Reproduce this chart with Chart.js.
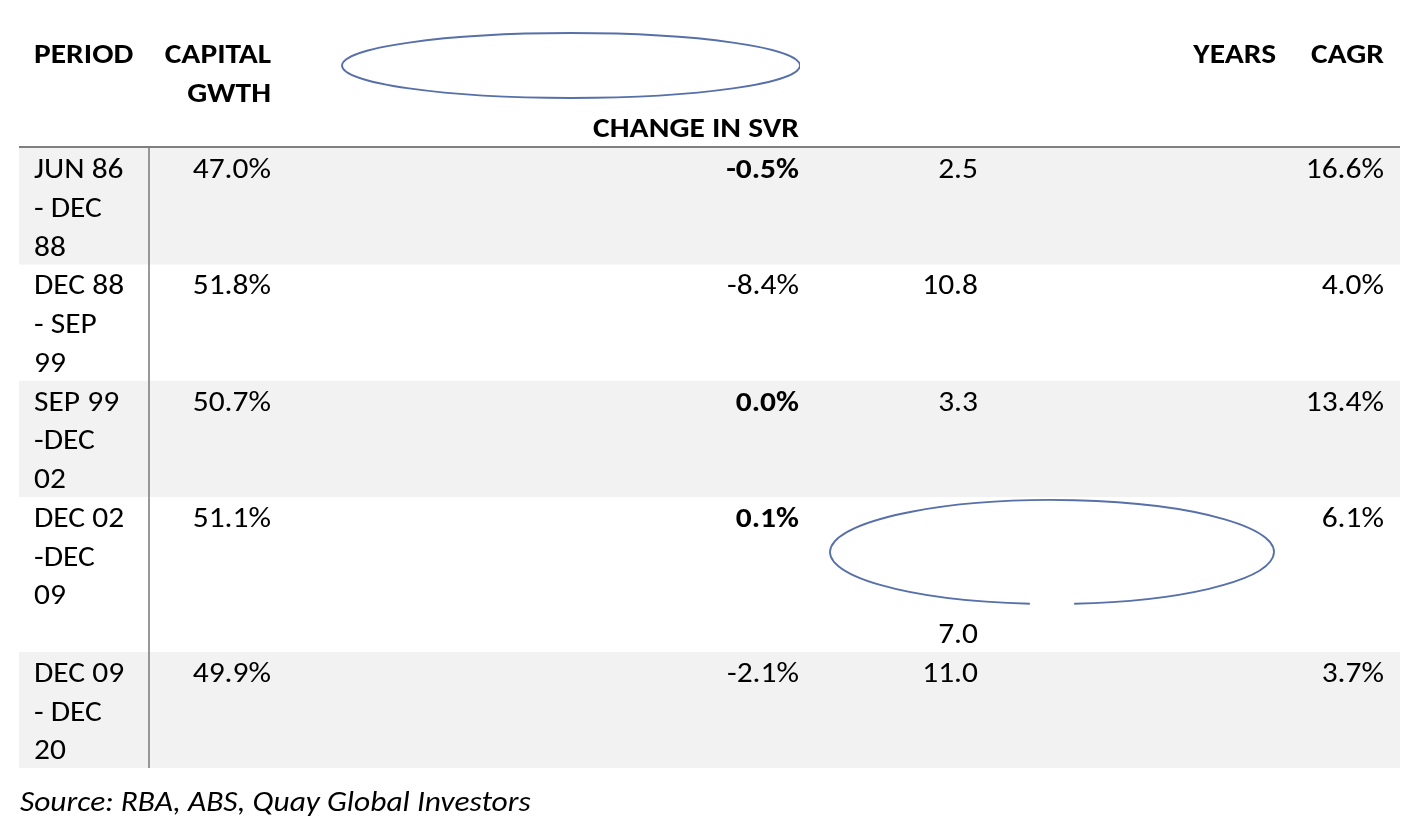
<!DOCTYPE html>
<html>
<head>
<meta charset="utf-8">
<script src="https://cdn.jsdelivr.net/npm/chart.js@4.4.1/dist/chart.umd.min.js"></script>
<style>
  html, body { margin: 0; padding: 0; background: #fff; }
  #wrap { width: 1421px; height: 830px; position: relative; }
</style>
</head>
<body>
<div id="wrap"><canvas id="tbl"></canvas></div>
<script>
// table data
const periods = [
  ["JUN 86", "- DEC", "88"],
  ["DEC 88", "- SEP", "99"],
  ["SEP 99", "-DEC", "02"],
  ["DEC 02", "-DEC", "09"],
  ["DEC 09", "- DEC", "20"],
];
const capitalGrowth = [47.0, 51.8, 50.7, 51.1, 49.9];
const svrChange = [-0.5, -8.4, 0.0, 0.1, -2.1];
const svrBold = [true, false, true, true, false];
const years = [2.5, 10.8, 3.3, 7.0, 11.0];
const yearsLine = [0, 0, 0, 3, 0];   // the 7.0 got pushed to the 4th line
const cagr = [16.6, 4.0, 13.4, 6.1, 3.7];
const source = "Source: RBA, ABS, Quay Global Investors";

// row heights in text lines
const rowLines = [3, 3, 3, 4, 3];
const rowStart = [];
rowLines.reduce((acc, n, i) => { rowStart[i] = acc; return acc + n; }, 0);
const totalLines = rowLines.reduce((a, b) => a + b, 0);

const FONT = "Carlito, Calibri, Lato, sans-serif";
const SIZE = 29;
const STRETCH = 1.085; // Lato is a touch narrower than Calibri
const pct = v => v.toFixed(1) + "%";

function text(ctx, str, x, y, align) {
  ctx.save();
  ctx.textAlign = align;
  ctx.translate(x, y);
  ctx.scale(STRETCH, 1);
  ctx.fillText(str, 0, 0);
  ctx.restore();
}

const tablePlugin = {
  id: "tableText",
  afterDatasetsDraw(chart) {
    const { ctx, chartArea: ca, scales: { y } } = chart;
    const pitch = y.getPixelForValue(1) - y.getPixelForValue(0);
    const base = (row, line) => y.getPixelForValue(rowStart[row]) + 30 + line * pitch;

    ctx.save();
    // header rule + first column divider
    ctx.strokeStyle = "#7f7f7f";
    ctx.lineWidth = 2;
    ctx.beginPath();
    ctx.moveTo(ca.left, ca.top - 1);
    ctx.lineTo(ca.right, ca.top - 1);
    ctx.stroke();
    ctx.lineWidth = 1.6;
    ctx.beginPath();
    ctx.moveTo(149, ca.top);
    ctx.lineTo(149, y.getPixelForValue(totalLines));
    ctx.stroke();

    ctx.fillStyle = "#000";
    ctx.textBaseline = "alphabetic";

    // header
    ctx.font = `bold ${SIZE}px ${FONT}`;
    text(ctx, "PERIOD", 34, 63, "left");
    text(ctx, "CAPITAL", 271, 63, "right");
    text(ctx, "GWTH", 271, 102, "right");
    text(ctx, "CHANGE IN SVR", 799, 137, "right");
    text(ctx, "YEARS", 1276, 63, "right");
    text(ctx, "CAGR", 1384, 63, "right");

    // body
    periods.forEach((lines, r) => {
      ctx.font = `${SIZE}px ${FONT}`;
      lines.forEach((t, l) => text(ctx, t, 34, base(r, l), "left"));
      text(ctx, pct(capitalGrowth[r]), 271, base(r, 0), "right");
      text(ctx, years[r].toFixed(1), 978, base(r, yearsLine[r]), "right");
      text(ctx, pct(cagr[r]), 1384, base(r, 0), "right");
      ctx.font = `${svrBold[r] ? "bold " : ""}${SIZE}px ${FONT}`;
      text(ctx, pct(svrChange[r]), 799, base(r, 0), "right");
    });

    // source note
    ctx.font = `italic ${SIZE}px ${FONT}`;
    text(ctx, source, 20, 811, "left");

    // hand drawn ellipses
    ctx.strokeStyle = "#5770aa";
    ctx.lineWidth = 1.8;
    ctx.save();
    ctx.beginPath();
    ctx.rect(0, 0, 800, 140);
    ctx.clip();
    ctx.beginPath();
    ctx.ellipse(571, 65.5, 229, 32.5, 0, 0, Math.PI * 2);
    ctx.stroke();
    ctx.restore();
    ctx.beginPath();
    ctx.ellipse(1052, 552, 222, 52, 0, Math.PI / 2 + 0.1, Math.PI / 2 - 0.1 + Math.PI * 2);
    ctx.stroke();
    ctx.restore();
  }
};

new Chart(document.getElementById("tbl"), {
  type: "bar",
  data: {
    labels: ["rows"],
    datasets: rowLines.map((n, i) => ({
      data: [[rowStart[i], rowStart[i] + n]],
      backgroundColor: i % 2 === 0 ? "#f2f2f2" : "#ffffff",
      grouped: false,
      borderWidth: 0,
      categoryPercentage: 1,
      barPercentage: 1,
    })),
  },
  options: {
    responsive: true,
    maintainAspectRatio: false,
    animation: false,
    events: [],
    layout: { padding: { left: 19, right: 21, top: 148, bottom: 62 } },
    plugins: { legend: { display: false }, tooltip: { enabled: false } },
    scales: {
      x: { display: false },
      y: { display: false, reverse: true, min: 0, max: totalLines },
    },
  },
  plugins: [tablePlugin],
});
</script>
</body>
</html>
